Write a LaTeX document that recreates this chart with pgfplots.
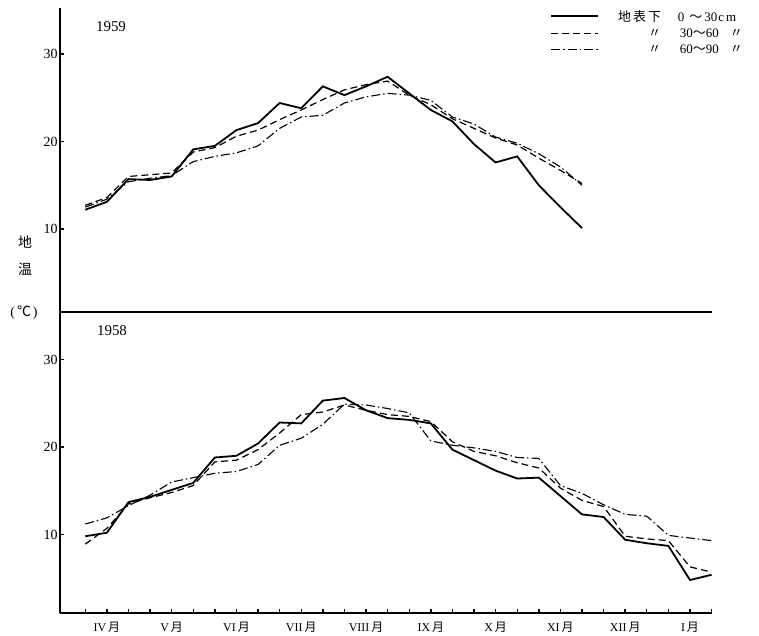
\documentclass[border=0pt]{standalone}
\usepackage{fontspec}
\setmainfont{Liberation Serif}
\newfontfamily\cjk{Noto Sans CJK SC}
\usepackage{pgfplots}
\pgfplotsset{compat=1.18}
\usepackage{pgfplotstable}

% 1959: dekads from April (i=0) to end of November (i=23)
\pgfplotstableread{
i s d c
0 12.2 12.7 12.5
1 13.1 13.6 13.4
2 15.7 16.0 15.4
3 15.6 16.2 15.8
4 16.0 16.4 16.1
5 19.1 18.8 17.7
6 19.5 19.3 18.3
7 21.3 20.6 18.7
8 22.1 21.3 19.5
9 24.4 22.5 21.5
10 23.8 23.6 22.8
11 26.3 24.8 23.0
12 25.3 25.9 24.4
13 26.3 26.5 25.1
14 27.4 26.9 25.5
15 25.5 25.3 25.3
16 23.6 24.2 24.7
17 22.3 22.6 22.8
18 19.7 21.5 22.0
19 17.6 20.4 20.5
20 18.3 19.6 19.8
21 15.0 18.1 18.6
22 12.5 16.7 17.1
23 10.1 15.2 15.0
}\topdata

% 1958: dekads from April (i=0) to January (i=29)
\pgfplotstableread{
i s d c
0 9.8 8.9 11.2
1 10.2 10.7 11.9
2 13.7 13.5 13.3
3 14.3 14.2 14.5
4 15.1 14.8 16.0
5 15.9 15.6 16.5
6 18.8 18.3 17.0
7 19.0 18.5 17.2
8 20.4 19.7 18.0
9 22.8 21.6 20.2
10 22.7 23.7 21.0
11 25.3 24.0 22.6
12 25.6 24.8 24.9
13 24.2 24.2 24.8
14 23.3 23.7 24.4
15 23.1 23.5 23.9
16 22.7 22.9 20.7
17 19.7 20.6 20.2
18 18.5 19.5 19.9
19 17.3 19.0 19.5
20 16.4 18.2 18.8
21 16.5 17.6 18.7
22 14.4 15.3 15.6
23 12.3 13.9 14.7
24 12.0 13.2 13.4
25 9.4 9.8 12.3
26 9.0 9.5 12.1
27 8.7 9.3 9.9
28 4.8 6.3 9.6
29 5.4 5.7 9.3
}\botdata

\newcommand{\mo}[1]{#1\,{\cjk 月}}

\begin{document}
\begin{tikzpicture}
\path[use as bounding box] (0,0) rectangle (759bp,636bp);
\pgfplotsset{
  common/.style={
    scale only axis, width=652bp,
    xmin=-1.17, xmax=29.02, enlargelimits=false,
    axis x line*=bottom, axis y line*=left,
    axis line style={line width=1.3bp, -},
    tick align=inside, major tick length=4bp,
    tick style={line width=1.4bp, black},
    ytick={10,20,30},
    /pgf/number format/assume math mode=true,
    yticklabel style={font=\fontsize{14}{14}\selectfont, xshift=1bp},
    clip=false,
  },
  s0/.style={black, line width=1.8bp},
  s1/.style={black, line width=1.2bp, dash pattern=on 7bp off 4bp},
  s2/.style={black, line width=1.1bp, dash pattern=on 9bp off 3bp on 1.5bp off 3bp},
}

\begin{axis}[common,
  at={(60bp,324bp)}, anchor=south west, height=304bp,
  ymin=0.51, ymax=35.26, xtick=\empty,
  legend style={at={(0.7515,1.0)}, anchor=north west, draw=none, fill=none,
    inner sep=0pt, row sep=2bp, font=\fontsize{13}{14}\selectfont,
    cells={anchor=west}},
  legend image code/.code={\draw[#1] (0bp,0bp) -- (47bp,0bp);},
]
\addplot[s0] table[x=i,y=s]{\topdata};
\addlegendentry{\hspace{13bp}\makebox[47bp][r]{\cjk 地\hspace{2bp}表\hspace{2bp}下}\hspace{17bp}0\hspace{5bp}{\cjk ～}\hspace{2bp}30\hspace{1bp}c\hspace{2bp}m}
\addplot[s1] table[x=i,y=d]{\topdata};
\addlegendentry{\hspace{13bp}\makebox[47bp][r]{\cjk 〃}\hspace{19bp}30{\cjk ～}60\hspace{11bp}{\cjk 〃}}
\addplot[s2] table[x=i,y=c]{\topdata};
\addlegendentry{\hspace{13bp}\makebox[47bp][r]{\cjk 〃}\hspace{19bp}60{\cjk ～}90\hspace{11bp}{\cjk 〃}}
\end{axis}

\begin{axis}[common,
  at={(60bp,23bp)}, anchor=south west, height=301bp,
  ymin=1.03, ymax=35.43,
  xtick={0,...,29},
  xticklabels={,\mo{IV},,,\mo{V},,,\mo{VI},,,\mo{VII},,,\mo{VIII},,,\mo{IX},,,\mo{X},,,\mo{XI},,,\mo{XII},,,\mo{I},},
  xticklabel style={font=\fontsize{12}{12}\selectfont, yshift=-6bp},
]
\addplot[s0] table[x=i,y=s]{\botdata};
\addplot[s1] table[x=i,y=d]{\botdata};
\addplot[s2] table[x=i,y=c]{\botdata};
\end{axis}

\node[font=\fontsize{15}{15}\selectfont] at (111bp,609bp) {1959};
\node[font=\fontsize{15}{15}\selectfont] at (112bp,305bp) {1958};
\node[font=\cjk\fontsize{14}{14}\selectfont] at (25bp,394bp) {地};
\node[font=\cjk\fontsize{14}{14}\selectfont] at (25bp,367bp) {温};
\node[font=\fontsize{14}{14}\selectfont] at (24bp,323bp) {(\hspace{2bp}{\cjk ℃}\hspace{2bp})};
\end{tikzpicture}
\end{document}
